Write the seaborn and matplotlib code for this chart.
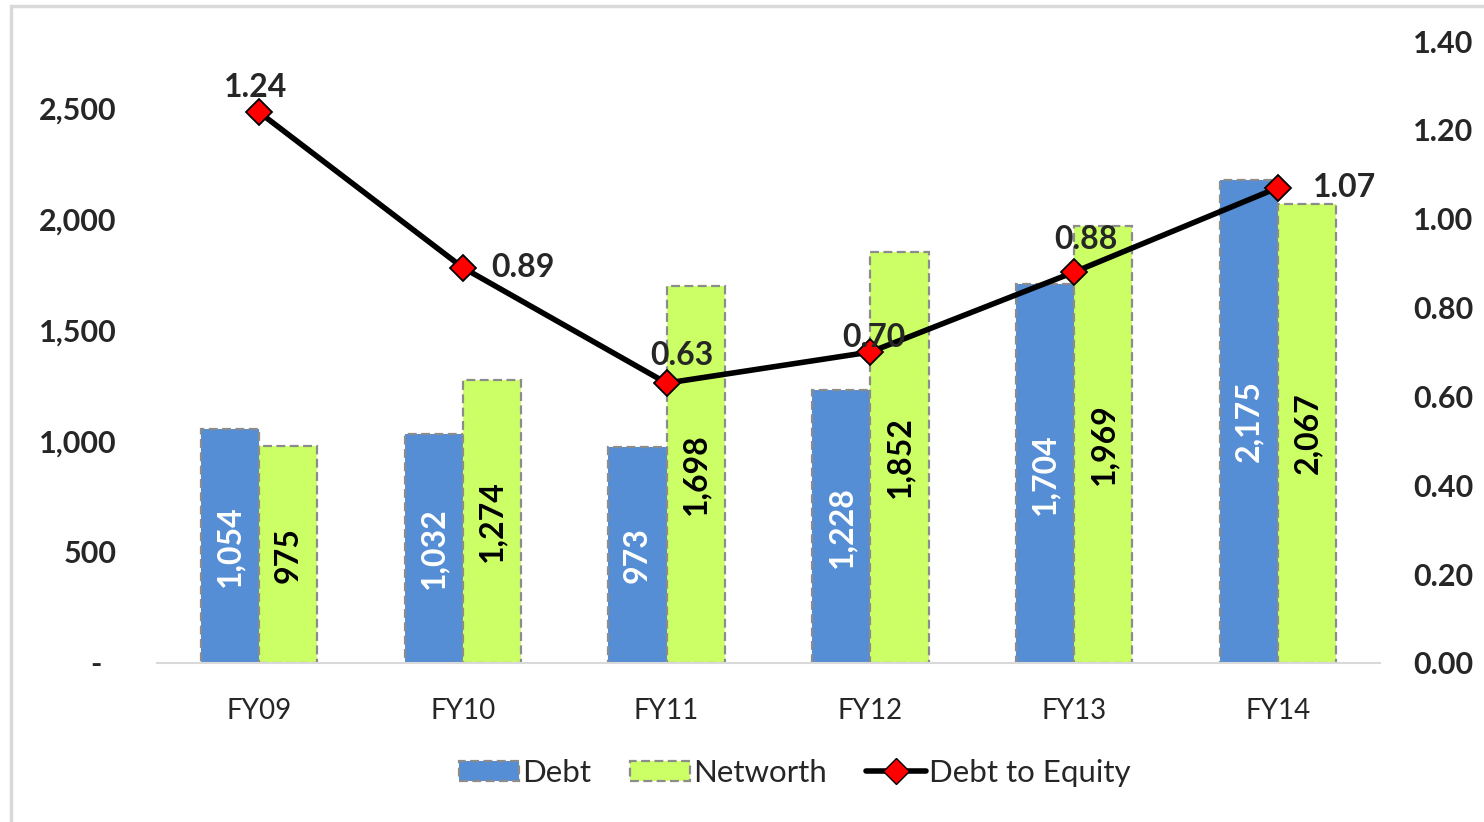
import numpy as np
import pandas as pd
import matplotlib
matplotlib.use("Agg")
import matplotlib.pyplot as plt
import seaborn as sns
from matplotlib.patches import Patch, Rectangle
from matplotlib.lines import Line2D

# data
years = ["FY09", "FY10", "FY11", "FY12", "FY13", "FY14"]
debt = [1054, 1032, 973, 1228, 1704, 2175]
networth = [975, 1274, 1698, 1852, 1969, 2067]
debt_equity = [1.24, 0.89, 0.63, 0.70, 0.88, 1.07]

df = pd.DataFrame({"year": years * 2,
                   "series": ["Debt"] * 6 + ["Networth"] * 6,
                   "value": debt + networth})

sns.set_style("white")
plt.rcParams["font.family"] = ["Lato", "DejaVu Sans"]

blue = "#558ED5"
green = "#CCFF66"
edge = "#8c8c8c"
dash = (0, (4, 2))

fig = plt.figure(figsize=(14.84, 8.22), dpi=100)
ax = fig.add_axes([157 / 1484, 1 - 663 / 822, (1380 - 157) / 1484, (663 - 41) / 822])

sns.barplot(data=df, x="year", y="value", hue="series", palette=[blue, green],
            width=0.57, ax=ax, legend=False, saturation=1)
for bar in ax.patches:
    bar.set_edgecolor(edge)
    bar.set_linestyle(dash)
    bar.set_linewidth(1.6)

# value labels inside bars
for cont, col in zip(ax.containers, ["white", "black"]):
    ax.bar_label(cont, labels=[f"{v:,.0f}" for v in cont.datavalues], label_type="center",
                 rotation=90, color=col, fontsize=23, fontweight="bold")

ax.set_ylim(0, 2800)
ax.set_yticks([0, 500, 1000, 1500, 2000, 2500])
ax.set_yticklabels(["-  "] + [f"{v:,}" for v in [500, 1000, 1500, 2000, 2500]],
                   fontsize=22, fontweight="bold")
ax.tick_params(axis="y", length=0, pad=29)
ax.tick_params(axis="x", length=0, pad=25, labelsize=20)
ax.set_xlabel("")
ax.set_ylabel("")
for s in ["top", "right", "left"]:
    ax.spines[s].set_visible(False)
ax.spines["bottom"].set_color("#d9d9d9")
ax.spines["bottom"].set_linewidth(1.5)

ax2 = ax.twinx()
sns.lineplot(x=np.arange(len(years)), y=debt_equity, ax=ax2, color="black", linewidth=4,
             marker="D", markersize=13, markerfacecolor="red", markeredgecolor="black",
             markeredgewidth=1.3)
ax2.set_ylim(0, 1.4)
ax2.set_yticks(np.arange(0, 1.41, 0.2))
ax2.set_yticklabels([f"{v:.2f}" for v in np.arange(0, 1.41, 0.2)], fontsize=22, fontweight="bold")
ax2.tick_params(axis="y", length=0, pad=24)
for s in ax2.spines.values():
    s.set_visible(False)
ax.set_xlim(-0.5, len(years) - 0.5)

offsets = [(-3, 25, "center"), (28, 0, "left"), (15, 28, "center"),
           (3, 15, "center"), (12, 33, "center"), (35, 0, "left")]
for i, (v, (dx, dy, ha)) in enumerate(zip(debt_equity, offsets)):
    ax2.annotate(f"{v:.2f}", (i, v), xytext=(dx, dy), textcoords="offset pixels",
                 ha=ha, va="center", fontsize=23, fontweight="bold")

handles = [Patch(facecolor=blue, edgecolor=edge, linestyle=dash, linewidth=1.6),
           Patch(facecolor=green, edgecolor=edge, linestyle=dash, linewidth=1.6),
           Line2D([], [], color="black", linewidth=4, marker="D", markersize=13,
                  markerfacecolor="red", markeredgecolor="black")]
fig.legend(handles, ["Debt", "Networth", "Debt to Equity"], loc="center",
           bbox_to_anchor=(795 / 1484, 1 - 773 / 822), ncol=3, frameon=False,
           fontsize=22.5, handlelength=1.92, handleheight=0.64, handletextpad=0.1,
           columnspacing=1.25)

# light grey frame around the chart area
fig.patches.append(Rectangle((11 / 1484, -0.05), 1.2, 1 - 6 / 822 + 0.05, transform=fig.transFigure,
                             fill=False, edgecolor="#d9d9d9", linewidth=2.5))

fig.savefig("out.png", dpi=100)
